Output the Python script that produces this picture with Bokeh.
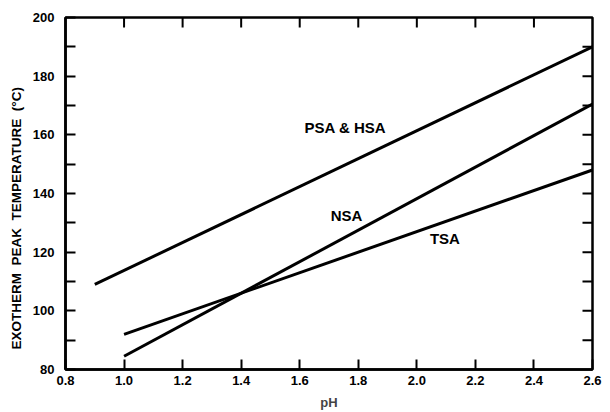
from math import pi
from bokeh.plotting import figure
from bokeh.models import FixedTicker, Label, Range1d, PrintfTickFormatter, Title
from bokeh.embed import file_html
from bokeh.resources import INLINE

# ---- data ----
ph_psa_hsa = [0.9, 2.6]
temp_psa_hsa = [109.0, 190.0]
ph_nsa = [1.0, 2.6]
temp_nsa = [84.5, 170.5]
ph_tsa = [1.0, 2.6]
temp_tsa = [92.0, 148.0]

x_ticks = [0.8, 1.0, 1.2, 1.4, 1.6, 1.8, 2.0, 2.2, 2.4, 2.6]
y_ticks = [80, 100, 120, 140, 160, 180, 200]
y_minor_ticks = [90, 110, 130, 150, 170, 190]

series_labels = ["PSA & HSA", "NSA", "TSA"]
label_x = [1.756, 1.760, 2.096]
label_y = [162.5, 132.4, 124.7]

x_title = "pH"
y_title = "EXOTHERM\u00a0 PEAK\u00a0 TEMPERATURE\u00a0 (°C)"

FONT = "Liberation Sans"

x_lo, x_hi = x_ticks[0], x_ticks[-1]
y_lo, y_hi = y_ticks[0], y_ticks[-1]

p = figure(width=610, height=412, output_backend="svg", toolbar_location=None,
           x_range=Range1d(x_lo, x_hi), y_range=Range1d(y_lo, y_hi),
           min_border_left=63, min_border_right=18, min_border_top=17, min_border_bottom=41)
p.background_fill_color = "white"
p.border_fill_color = "white"
p.outline_line_color = "black"
p.outline_line_width = 2.5
p.xgrid.visible = False
p.ygrid.visible = False

lw = 3
p.line(ph_psa_hsa, temp_psa_hsa, line_color="black", line_width=lw)
p.line(ph_nsa, temp_nsa, line_color="black", line_width=lw)
p.line(ph_tsa, temp_tsa, line_color="black", line_width=lw)

def style_axis(ax):
    ax.axis_line_width = 2.5
    ax.axis_line_color = "black"
    ax.major_tick_in = 10
    ax.major_tick_out = 0
    ax.minor_tick_in = 10
    ax.minor_tick_out = 0
    ax.major_tick_line_width = 2
    ax.minor_tick_line_width = 2
    ax.major_tick_line_color = "black"
    ax.minor_tick_line_color = "black"
    ax.major_label_text_font = FONT
    ax.major_label_text_font_style = "bold"
    ax.major_label_text_color = "black"
    ax.major_label_text_font_size = "13px"

# bottom axis
xb = p.xaxis[0]
xb.ticker = FixedTicker(ticks=x_ticks, minor_ticks=[])
xb.formatter = PrintfTickFormatter(format="%.1f")
style_axis(xb)
xb.major_label_standoff = 6
xb.axis_label = x_title
xb.axis_label_text_font = FONT
xb.axis_label_text_font_style = "bold"
xb.axis_label_text_font_size = "13px"
xb.axis_label_standoff = 7

# left axis
yl = p.yaxis[0]
yl.ticker = FixedTicker(ticks=y_ticks, minor_ticks=y_minor_ticks)
style_axis(yl)
yl.major_label_standoff = 11

# inward ticks on the top and right frame edges
top_x = x_ticks[1:-1]
p.ray(x=top_x, y=[y_hi] * len(top_x), length=10, length_units="screen",
      angle=-pi / 2, line_color="black", line_width=2)
right_y = sorted(y_ticks[1:-1] + y_minor_ticks)
p.ray(x=[x_hi] * len(right_y), y=right_y, length=10, length_units="screen",
      angle=pi, line_color="black", line_width=2)

for t, lx, ly in zip(series_labels, label_x, label_y):
    p.add_layout(Label(x=lx, y=ly, text=t, text_align="center", text_baseline="middle",
                       text_font=FONT, text_font_style="bold", text_font_size="15px",
                       text_color="black"))

p.add_layout(Title(text=y_title, align="left", offset=20, text_font=FONT,
                   text_font_style="bold", text_font_size="13.5px", text_color="black",
                   standoff=12), "left")

open("out.html", "w").write(file_html(p, INLINE))
